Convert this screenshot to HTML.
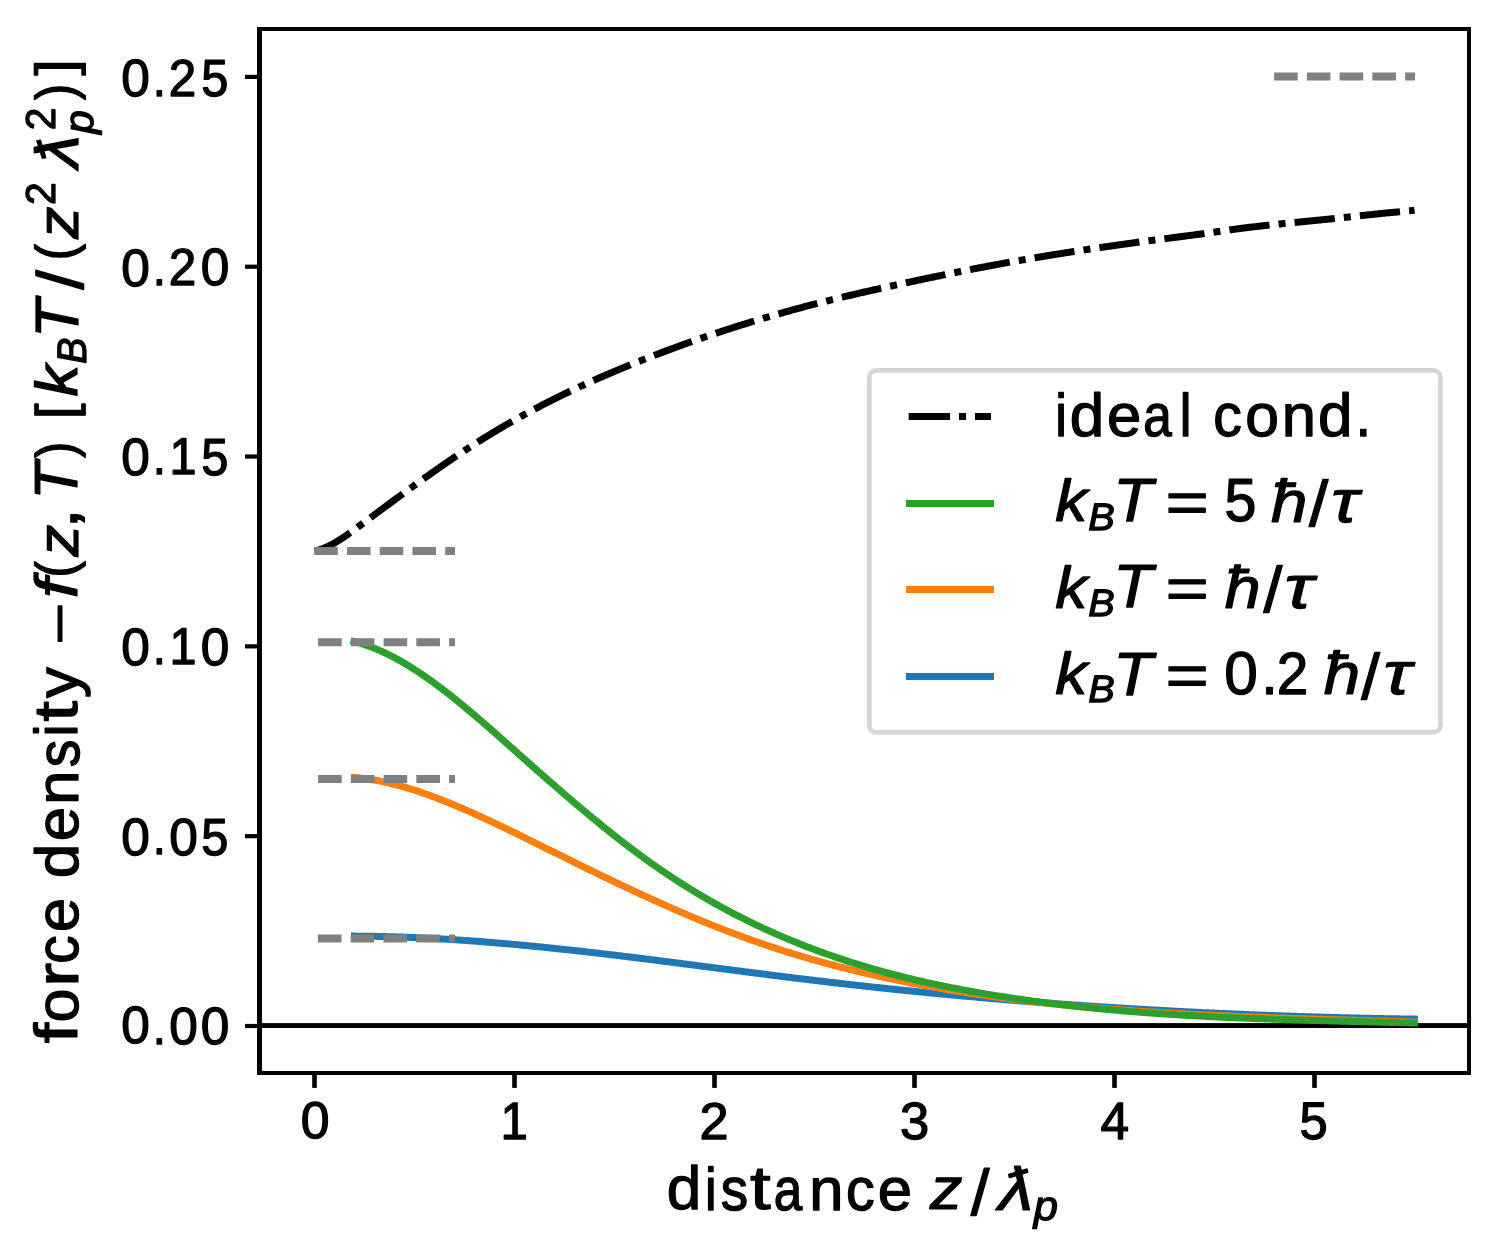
<!DOCTYPE html>
<html><head><meta charset="utf-8"><title>force density vs distance</title>
<style>html,body{margin:0;padding:0;background:#fff;}svg{display:block;}</style></head>
<body><svg width="1495" height="1244" viewBox="0 0 1495 1244">
<rect width="1495" height="1244" fill="#fff"/>
<rect x="259.5" y="1023.1" width="1210" height="4.9" fill="#000"/>
<path d="M314.50,551.00 L315.50,550.78 L316.50,550.54 L317.50,550.28 L318.50,550.00 L319.50,549.70 L320.50,549.37 L321.50,549.03 L322.50,548.66 L323.50,548.28 L324.50,547.88 L325.50,547.46 L326.50,547.02 L327.50,546.56 L328.50,546.09 L329.50,545.60 L330.50,545.09 L331.50,544.57 L332.50,544.04 L333.50,543.49 L334.50,542.93 L335.50,542.35 L336.50,541.76 L337.50,541.16 L338.50,540.55 L339.50,539.92 L340.50,539.29 L341.50,538.64 L342.50,537.99 L343.50,537.32 L344.50,536.65 L345.50,535.97 L346.50,535.28 L347.50,534.59 L348.50,533.88 L349.50,533.18 L350.50,532.46 L351.50,531.74 L352.50,531.02 L353.50,530.29 L354.50,529.56 L355.50,528.82 L356.50,528.08 L357.50,527.35 L358.50,526.60 L359.50,525.86 L360.50,525.12 L361.50,524.37 L362.50,523.63 L363.50,522.89 L364.50,522.14 L365.50,521.40 L366.50,520.66 L367.50,519.91 L368.50,519.17 L369.50,518.43 L370.50,517.68 L371.50,516.94 L372.50,516.20 L373.50,515.45 L374.50,514.71 L375.50,513.97 L376.50,513.23 L377.50,512.48 L378.50,511.74 L379.50,511.00 L380.50,510.26 L381.50,509.52 L382.50,508.78 L383.50,508.03 L384.50,507.29 L385.50,506.55 L386.50,505.81 L387.50,505.07 L388.50,504.33 L389.50,503.60 L390.50,502.86 L391.50,502.12 L392.50,501.38 L393.50,500.65 L394.50,499.91 L395.50,499.17 L396.50,498.44 L397.50,497.70 L398.50,496.97 L399.50,496.23 L400.50,495.50 L401.50,494.77 L402.50,494.04 L403.50,493.30 L404.50,492.57 L405.50,491.84 L406.50,491.11 L407.50,490.39 L408.50,489.66 L409.50,488.93 L410.50,488.20 L411.50,487.48 L412.50,486.75 L413.50,486.03 L414.50,485.31 L415.50,484.59 L416.50,483.86 L417.50,483.14 L418.50,482.42 L419.50,481.71 L420.50,480.99 L421.50,480.27 L422.50,479.56 L423.50,478.84 L424.50,478.13 L425.50,477.41 L426.50,476.70 L427.50,475.99 L428.50,475.28 L429.50,474.57 L430.50,473.87 L431.50,473.16 L432.50,472.46 L433.50,471.75 L434.50,471.05 L435.50,470.35 L436.50,469.65 L437.50,468.95 L438.50,468.25 L439.50,467.56 L440.50,466.86 L441.50,466.17 L442.50,465.47 L443.50,464.78 L444.50,464.09 L445.50,463.41 L446.50,462.72 L447.50,462.03 L448.50,461.35 L449.50,460.67 L450.50,459.99 L451.50,459.31 L452.50,458.63 L453.50,457.95 L454.50,457.28 L455.50,456.60 L456.50,455.93 L457.50,455.26 L458.50,454.59 L459.50,453.93 L460.50,453.26 L461.50,452.60 L462.50,451.94 L463.50,451.28 L464.50,450.62 L465.50,449.96 L466.50,449.31 L467.50,448.65 L468.50,448.00 L469.50,447.35 L470.50,446.70 L471.50,446.06 L472.50,445.41 L473.50,444.77 L474.50,444.13 L475.50,443.49 L476.50,442.86 L477.50,442.22 L478.50,441.59 L479.50,440.96 L480.50,440.33 L481.50,439.70 L482.50,439.08 L483.50,438.46 L484.50,437.84 L485.50,437.22 L486.50,436.60 L487.50,435.99 L488.50,435.37 L489.50,434.76 L490.50,434.15 L491.50,433.55 L492.50,432.94 L493.50,432.34 L494.50,431.74 L495.50,431.14 L496.50,430.54 L497.50,429.94 L498.50,429.35 L499.50,428.76 L500.50,428.17 L501.50,427.58 L502.50,426.99 L503.50,426.41 L504.50,425.82 L505.50,425.24 L506.50,424.66 L507.50,424.08 L508.50,423.51 L509.50,422.93 L510.50,422.36 L511.50,421.79 L512.50,421.22 L513.50,420.66 L514.50,420.09 L515.50,419.53 L516.50,418.97 L517.50,418.41 L518.50,417.85 L519.50,417.29 L520.50,416.74 L521.50,416.18 L522.50,415.63 L523.50,415.08 L524.50,414.53 L525.50,413.99 L526.50,413.44 L527.50,412.90 L528.50,412.36 L529.50,411.82 L530.50,411.28 L531.50,410.75 L532.50,410.21 L533.50,409.68 L534.50,409.15 L535.50,408.62 L536.50,408.09 L537.50,407.56 L538.50,407.04 L539.50,406.52 L540.50,405.99 L541.50,405.47 L542.50,404.96 L543.50,404.44 L544.50,403.92 L545.50,403.41 L546.50,402.90 L547.50,402.39 L548.50,401.88 L549.50,401.37 L550.50,400.86 L551.50,400.36 L552.50,399.86 L553.50,399.36 L554.50,398.86 L555.50,398.36 L556.50,397.86 L557.50,397.36 L558.50,396.87 L559.50,396.38 L560.50,395.89 L561.50,395.40 L562.50,394.91 L563.50,394.42 L564.50,393.94 L565.50,393.45 L566.50,392.97 L567.50,392.49 L568.50,392.01 L569.50,391.53 L570.50,391.06 L571.50,390.58 L572.50,390.11 L573.50,389.64 L574.50,389.17 L575.50,388.70 L576.50,388.23 L577.50,387.76 L578.50,387.30 L579.50,386.83 L580.50,386.37 L581.50,385.91 L582.50,385.45 L583.50,384.99 L584.50,384.53 L585.50,384.07 L586.50,383.62 L587.50,383.17 L588.50,382.71 L589.50,382.26 L590.50,381.81 L591.50,381.36 L592.50,380.92 L593.50,380.47 L594.50,380.03 L595.50,379.58 L596.50,379.14 L597.50,378.70 L598.50,378.26 L599.50,377.82 L600.50,377.38 L601.50,376.95 L602.50,376.51 L603.50,376.08 L604.50,375.65 L605.50,375.21 L606.50,374.78 L607.50,374.35 L608.50,373.93 L609.50,373.50 L610.50,373.07 L611.50,372.65 L612.50,372.22 L613.50,371.80 L614.50,371.38 L615.50,370.96 L616.50,370.54 L617.50,370.12 L618.50,369.70 L619.50,369.29 L620.50,368.87 L621.50,368.46 L622.50,368.04 L623.50,367.63 L624.50,367.22 L625.50,366.81 L626.50,366.40 L627.50,365.99 L628.50,365.59 L629.50,365.18 L630.50,364.77 L631.50,364.37 L632.50,363.97 L633.50,363.56 L634.50,363.16 L635.50,362.76 L636.50,362.36 L637.50,361.96 L638.50,361.56 L639.50,361.17 L640.50,360.77 L641.50,360.37 L642.50,359.98 L643.50,359.59 L644.50,359.19 L645.50,358.80 L646.50,358.41 L647.50,358.02 L648.50,357.63 L649.50,357.24 L650.50,356.85 L651.50,356.46 L652.50,356.08 L653.50,355.69 L654.50,355.31 L655.50,354.92 L656.50,354.54 L657.50,354.16 L658.50,353.78 L659.50,353.40 L660.50,353.02 L661.50,352.64 L662.50,352.26 L663.50,351.88 L664.50,351.51 L665.50,351.13 L666.50,350.76 L667.50,350.38 L668.50,350.01 L669.50,349.64 L670.50,349.27 L671.50,348.90 L672.50,348.53 L673.50,348.16 L674.50,347.79 L675.50,347.42 L676.50,347.06 L677.50,346.69 L678.50,346.33 L679.50,345.96 L680.50,345.60 L681.50,345.24 L682.50,344.88 L683.50,344.52 L684.50,344.16 L685.50,343.80 L686.50,343.44 L687.50,343.08 L688.50,342.72 L689.50,342.37 L690.50,342.01 L691.50,341.66 L692.50,341.31 L693.50,340.95 L694.50,340.60 L695.50,340.25 L696.50,339.90 L697.50,339.55 L698.50,339.20 L699.50,338.86 L700.50,338.51 L701.50,338.16 L702.50,337.82 L703.50,337.47 L704.50,337.13 L705.50,336.79 L706.50,336.44 L707.50,336.10 L708.50,335.76 L709.50,335.42 L710.50,335.08 L711.50,334.75 L712.50,334.41 L713.50,334.07 L714.50,333.74 L715.50,333.40 L716.50,333.07 L717.50,332.74 L718.50,332.40 L719.50,332.07 L720.50,331.74 L721.50,331.41 L722.50,331.08 L723.50,330.75 L724.50,330.43 L725.50,330.10 L726.50,329.77 L727.50,329.45 L728.50,329.12 L729.50,328.80 L730.50,328.48 L731.50,328.15 L732.50,327.83 L733.50,327.51 L734.50,327.19 L735.50,326.87 L736.50,326.56 L737.50,326.24 L738.50,325.92 L739.50,325.61 L740.50,325.29 L741.50,324.98 L742.50,324.66 L743.50,324.35 L744.50,324.04 L745.50,323.73 L746.50,323.42 L747.50,323.11 L748.50,322.80 L749.50,322.49 L750.50,322.18 L751.50,321.88 L752.50,321.57 L753.50,321.27 L754.50,320.96 L755.50,320.66 L756.50,320.36 L757.50,320.06 L758.50,319.76 L759.50,319.45 L760.50,319.16 L761.50,318.86 L762.50,318.56 L763.50,318.26 L764.50,317.97 L765.50,317.67 L766.50,317.37 L767.50,317.08 L768.50,316.79 L769.50,316.50 L770.50,316.20 L771.50,315.91 L772.50,315.62 L773.50,315.33 L774.50,315.04 L775.50,314.76 L776.50,314.47 L777.50,314.18 L778.50,313.90 L779.50,313.61 L780.50,313.33 L781.50,313.04 L782.50,312.76 L783.50,312.48 L784.50,312.20 L785.50,311.92 L786.50,311.64 L787.50,311.36 L788.50,311.08 L789.50,310.80 L790.50,310.53 L791.50,310.25 L792.50,309.98 L793.50,309.70 L794.50,309.43 L795.50,309.16 L796.50,308.88 L797.50,308.61 L798.50,308.34 L799.50,308.07 L800.50,307.80 L801.50,307.54 L802.50,307.27 L803.50,307.00 L804.50,306.73 L805.50,306.47 L806.50,306.20 L807.50,305.94 L808.50,305.68 L809.50,305.42 L810.50,305.15 L811.50,304.89 L812.50,304.63 L813.50,304.37 L814.50,304.11 L815.50,303.86 L816.50,303.60 L817.50,303.34 L818.50,303.09 L819.50,302.83 L820.50,302.58 L821.50,302.32 L822.50,302.07 L823.50,301.82 L824.50,301.57 L825.50,301.32 L826.50,301.07 L827.50,300.82 L828.50,300.57 L829.50,300.32 L830.50,300.07 L831.50,299.83 L832.50,299.58 L833.50,299.34 L834.50,299.09 L835.50,298.85 L836.50,298.60 L837.50,298.36 L838.50,298.12 L839.50,297.88 L840.50,297.63 L841.50,297.39 L842.50,297.15 L843.50,296.91 L844.50,296.68 L845.50,296.44 L846.50,296.20 L847.50,295.96 L848.50,295.73 L849.50,295.49 L850.50,295.25 L851.50,295.02 L852.50,294.78 L853.50,294.55 L854.50,294.32 L855.50,294.08 L856.50,293.85 L857.50,293.62 L858.50,293.39 L859.50,293.16 L860.50,292.93 L861.50,292.70 L862.50,292.47 L863.50,292.24 L864.50,292.01 L865.50,291.78 L866.50,291.55 L867.50,291.33 L868.50,291.10 L869.50,290.87 L870.50,290.65 L871.50,290.42 L872.50,290.19 L873.50,289.97 L874.50,289.74 L875.50,289.52 L876.50,289.30 L877.50,289.07 L878.50,288.85 L879.50,288.63 L880.50,288.40 L881.50,288.18 L882.50,287.96 L883.50,287.74 L884.50,287.52 L885.50,287.30 L886.50,287.08 L887.50,286.86 L888.50,286.64 L889.50,286.42 L890.50,286.20 L891.50,285.98 L892.50,285.76 L893.50,285.54 L894.50,285.32 L895.50,285.10 L896.50,284.88 L897.50,284.67 L898.50,284.45 L899.50,284.23 L900.50,284.02 L901.50,283.80 L902.50,283.58 L903.50,283.37 L904.50,283.15 L905.50,282.94 L906.50,282.72 L907.50,282.51 L908.50,282.29 L909.50,282.08 L910.50,281.86 L911.50,281.65 L912.50,281.43 L913.50,281.22 L914.50,281.01 L915.50,280.79 L916.50,280.58 L917.50,280.37 L918.50,280.16 L919.50,279.95 L920.50,279.73 L921.50,279.52 L922.50,279.31 L923.50,279.10 L924.50,278.89 L925.50,278.68 L926.50,278.47 L927.50,278.26 L928.50,278.05 L929.50,277.84 L930.50,277.63 L931.50,277.42 L932.50,277.22 L933.50,277.01 L934.50,276.80 L935.50,276.59 L936.50,276.39 L937.50,276.18 L938.50,275.97 L939.50,275.77 L940.50,275.56 L941.50,275.35 L942.50,275.15 L943.50,274.94 L944.50,274.74 L945.50,274.53 L946.50,274.33 L947.50,274.13 L948.50,273.92 L949.50,273.72 L950.50,273.52 L951.50,273.31 L952.50,273.11 L953.50,272.91 L954.50,272.71 L955.50,272.50 L956.50,272.30 L957.50,272.10 L958.50,271.90 L959.50,271.70 L960.50,271.50 L961.50,271.30 L962.50,271.10 L963.50,270.90 L964.50,270.70 L965.50,270.50 L966.50,270.31 L967.50,270.11 L968.50,269.91 L969.50,269.71 L970.50,269.52 L971.50,269.32 L972.50,269.13 L973.50,268.93 L974.50,268.74 L975.50,268.54 L976.50,268.35 L977.50,268.16 L978.50,267.96 L979.50,267.77 L980.50,267.58 L981.50,267.39 L982.50,267.20 L983.50,267.01 L984.50,266.82 L985.50,266.63 L986.50,266.44 L987.50,266.25 L988.50,266.06 L989.50,265.88 L990.50,265.69 L991.50,265.50 L992.50,265.32 L993.50,265.13 L994.50,264.94 L995.50,264.76 L996.50,264.57 L997.50,264.39 L998.50,264.21 L999.50,264.02 L1000.50,263.84 L1001.50,263.66 L1002.50,263.48 L1003.50,263.29 L1004.50,263.11 L1005.50,262.93 L1006.50,262.75 L1007.50,262.57 L1008.50,262.39 L1009.50,262.21 L1010.50,262.04 L1011.50,261.86 L1012.50,261.68 L1013.50,261.50 L1014.50,261.32 L1015.50,261.15 L1016.50,260.97 L1017.50,260.80 L1018.50,260.62 L1019.50,260.45 L1020.50,260.27 L1021.50,260.10 L1022.50,259.92 L1023.50,259.75 L1024.50,259.58 L1025.50,259.40 L1026.50,259.23 L1027.50,259.06 L1028.50,258.89 L1029.50,258.72 L1030.50,258.55 L1031.50,258.38 L1032.50,258.21 L1033.50,258.04 L1034.50,257.87 L1035.50,257.70 L1036.50,257.53 L1037.50,257.37 L1038.50,257.20 L1039.50,257.03 L1040.50,256.86 L1041.50,256.70 L1042.50,256.53 L1043.50,256.37 L1044.50,256.20 L1045.50,256.04 L1046.50,255.87 L1047.50,255.71 L1048.50,255.54 L1049.50,255.38 L1050.50,255.22 L1051.50,255.06 L1052.50,254.89 L1053.50,254.73 L1054.50,254.57 L1055.50,254.41 L1056.50,254.25 L1057.50,254.09 L1058.50,253.93 L1059.50,253.77 L1060.50,253.61 L1061.50,253.45 L1062.50,253.29 L1063.50,253.13 L1064.50,252.97 L1065.50,252.82 L1066.50,252.66 L1067.50,252.50 L1068.50,252.35 L1069.50,252.19 L1070.50,252.03 L1071.50,251.88 L1072.50,251.72 L1073.50,251.57 L1074.50,251.41 L1075.50,251.26 L1076.50,251.11 L1077.50,250.95 L1078.50,250.80 L1079.50,250.65 L1080.50,250.50 L1081.50,250.34 L1082.50,250.19 L1083.50,250.04 L1084.50,249.89 L1085.50,249.74 L1086.50,249.59 L1087.50,249.44 L1088.50,249.29 L1089.50,249.14 L1090.50,248.99 L1091.50,248.84 L1092.50,248.69 L1093.50,248.54 L1094.50,248.40 L1095.50,248.25 L1096.50,248.10 L1097.50,247.95 L1098.50,247.81 L1099.50,247.66 L1100.50,247.52 L1101.50,247.37 L1102.50,247.22 L1103.50,247.08 L1104.50,246.93 L1105.50,246.79 L1106.50,246.65 L1107.50,246.50 L1108.50,246.36 L1109.50,246.21 L1110.50,246.07 L1111.50,245.93 L1112.50,245.79 L1113.50,245.64 L1114.50,245.50 L1115.50,245.36 L1116.50,245.22 L1117.50,245.08 L1118.50,244.94 L1119.50,244.80 L1120.50,244.66 L1121.50,244.52 L1122.50,244.38 L1123.50,244.24 L1124.50,244.10 L1125.50,243.96 L1126.50,243.82 L1127.50,243.69 L1128.50,243.55 L1129.50,243.41 L1130.50,243.27 L1131.50,243.14 L1132.50,243.00 L1133.50,242.86 L1134.50,242.73 L1135.50,242.59 L1136.50,242.46 L1137.50,242.32 L1138.50,242.19 L1139.50,242.05 L1140.50,241.92 L1141.50,241.78 L1142.50,241.65 L1143.50,241.51 L1144.50,241.38 L1145.50,241.25 L1146.50,241.11 L1147.50,240.98 L1148.50,240.85 L1149.50,240.72 L1150.50,240.58 L1151.50,240.45 L1152.50,240.32 L1153.50,240.19 L1154.50,240.06 L1155.50,239.93 L1156.50,239.80 L1157.50,239.67 L1158.50,239.54 L1159.50,239.41 L1160.50,239.28 L1161.50,239.15 L1162.50,239.02 L1163.50,238.89 L1164.50,238.76 L1165.50,238.63 L1166.50,238.50 L1167.50,238.37 L1168.50,238.24 L1169.50,238.11 L1170.50,237.98 L1171.50,237.85 L1172.50,237.72 L1173.50,237.59 L1174.50,237.47 L1175.50,237.34 L1176.50,237.21 L1177.50,237.08 L1178.50,236.95 L1179.50,236.82 L1180.50,236.69 L1181.50,236.56 L1182.50,236.43 L1183.50,236.30 L1184.50,236.17 L1185.50,236.04 L1186.50,235.90 L1187.50,235.77 L1188.50,235.64 L1189.50,235.51 L1190.50,235.38 L1191.50,235.25 L1192.50,235.11 L1193.50,234.98 L1194.50,234.85 L1195.50,234.72 L1196.50,234.58 L1197.50,234.45 L1198.50,234.31 L1199.50,234.18 L1200.50,234.04 L1201.50,233.91 L1202.50,233.77 L1203.50,233.64 L1204.50,233.50 L1205.50,233.36 L1206.50,233.22 L1207.50,233.09 L1208.50,232.95 L1209.50,232.81 L1210.50,232.67 L1211.50,232.53 L1212.50,232.39 L1213.50,232.25 L1214.50,232.10 L1215.50,231.96 L1216.50,231.82 L1217.50,231.67 L1218.50,231.53 L1219.50,231.38 L1220.50,231.24 L1221.50,231.09 L1222.50,230.95 L1223.50,230.80 L1224.50,230.66 L1225.50,230.51 L1226.50,230.37 L1227.50,230.23 L1228.50,230.09 L1229.50,229.94 L1230.50,229.80 L1231.50,229.67 L1232.50,229.53 L1233.50,229.39 L1234.50,229.26 L1235.50,229.12 L1236.50,228.99 L1237.50,228.85 L1238.50,228.72 L1239.50,228.59 L1240.50,228.46 L1241.50,228.33 L1242.50,228.21 L1243.50,228.08 L1244.50,227.95 L1245.50,227.83 L1246.50,227.70 L1247.50,227.58 L1248.50,227.46 L1249.50,227.34 L1250.50,227.22 L1251.50,227.10 L1252.50,226.98 L1253.50,226.86 L1254.50,226.74 L1255.50,226.62 L1256.50,226.51 L1257.50,226.39 L1258.50,226.28 L1259.50,226.16 L1260.50,226.05 L1261.50,225.94 L1262.50,225.82 L1263.50,225.71 L1264.50,225.60 L1265.50,225.49 L1266.50,225.38 L1267.50,225.27 L1268.50,225.16 L1269.50,225.06 L1270.50,224.95 L1271.50,224.84 L1272.50,224.74 L1273.50,224.63 L1274.50,224.52 L1275.50,224.42 L1276.50,224.32 L1277.50,224.21 L1278.50,224.11 L1279.50,224.00 L1280.50,223.90 L1281.50,223.80 L1282.50,223.70 L1283.50,223.59 L1284.50,223.49 L1285.50,223.39 L1286.50,223.29 L1287.50,223.19 L1288.50,223.09 L1289.50,222.99 L1290.50,222.89 L1291.50,222.79 L1292.50,222.69 L1293.50,222.59 L1294.50,222.49 L1295.50,222.39 L1296.50,222.29 L1297.50,222.19 L1298.50,222.10 L1299.50,222.00 L1300.50,221.90 L1301.50,221.80 L1302.50,221.70 L1303.50,221.60 L1304.50,221.51 L1305.50,221.41 L1306.50,221.31 L1307.50,221.21 L1308.50,221.11 L1309.50,221.02 L1310.50,220.92 L1311.50,220.82 L1312.50,220.72 L1313.50,220.62 L1314.50,220.52 L1315.50,220.42 L1316.50,220.33 L1317.50,220.23 L1318.50,220.13 L1319.50,220.03 L1320.50,219.93 L1321.50,219.83 L1322.50,219.73 L1323.50,219.63 L1324.50,219.53 L1325.50,219.43 L1326.50,219.32 L1327.50,219.22 L1328.50,219.12 L1329.50,219.02 L1330.50,218.92 L1331.50,218.81 L1332.50,218.71 L1333.50,218.61 L1334.50,218.50 L1335.50,218.40 L1336.50,218.29 L1337.50,218.19 L1338.50,218.08 L1339.50,217.97 L1340.50,217.87 L1341.50,217.76 L1342.50,217.65 L1343.50,217.55 L1344.50,217.44 L1345.50,217.33 L1346.50,217.22 L1347.50,217.12 L1348.50,217.01 L1349.50,216.90 L1350.50,216.79 L1351.50,216.68 L1352.50,216.57 L1353.50,216.46 L1354.50,216.36 L1355.50,216.25 L1356.50,216.14 L1357.50,216.03 L1358.50,215.92 L1359.50,215.81 L1360.50,215.70 L1361.50,215.60 L1362.50,215.49 L1363.50,215.38 L1364.50,215.27 L1365.50,215.16 L1366.50,215.06 L1367.50,214.95 L1368.50,214.84 L1369.50,214.74 L1370.50,214.63 L1371.50,214.52 L1372.50,214.42 L1373.50,214.31 L1374.50,214.21 L1375.50,214.10 L1376.50,214.00 L1377.50,213.90 L1378.50,213.79 L1379.50,213.69 L1380.50,213.59 L1381.50,213.49 L1382.50,213.39 L1383.50,213.29 L1384.50,213.19 L1385.50,213.09 L1386.50,212.99 L1387.50,212.89 L1388.50,212.79 L1389.50,212.70 L1390.50,212.60 L1391.50,212.51 L1392.50,212.41 L1393.50,212.32 L1394.50,212.23 L1395.50,212.14 L1396.50,212.05 L1397.50,211.96 L1398.50,211.87 L1399.50,211.78 L1400.50,211.69 L1401.50,211.61 L1402.50,211.52 L1403.50,211.43 L1404.50,211.34 L1405.50,211.25 L1406.50,211.16 L1407.50,211.06 L1408.50,210.95 L1409.50,210.85 L1410.50,210.73 L1411.50,210.61 L1412.50,210.49 L1413.50,210.35 L1414.50,210.21" fill="none" stroke="#000" stroke-width="7.0" stroke-dasharray="40.4 9.1 7.0 9.1" stroke-dashoffset="0" stroke-linecap="butt" stroke-linejoin="round"/>
<path d="M354.50,936.12 L356.00,936.12 L357.50,936.13 L359.00,936.15 L360.50,936.16 L362.00,936.17 L363.50,936.19 L365.00,936.20 L366.50,936.22 L368.00,936.24 L369.50,936.27 L371.00,936.29 L372.50,936.31 L374.00,936.34 L375.50,936.37 L377.00,936.40 L378.50,936.43 L380.00,936.46 L381.50,936.49 L383.00,936.53 L384.50,936.56 L386.00,936.60 L387.50,936.64 L389.00,936.68 L390.50,936.72 L392.00,936.77 L393.50,936.81 L395.00,936.86 L396.50,936.91 L398.00,936.96 L399.50,937.01 L401.00,937.06 L402.50,937.11 L404.00,937.17 L405.50,937.22 L407.00,937.28 L408.50,937.34 L410.00,937.40 L411.50,937.46 L413.00,937.52 L414.50,937.59 L416.00,937.65 L417.50,937.72 L419.00,937.78 L420.50,937.85 L422.00,937.92 L423.50,938.00 L425.00,938.07 L426.50,938.14 L428.00,938.22 L429.50,938.29 L431.00,938.37 L432.50,938.45 L434.00,938.53 L435.50,938.61 L437.00,938.70 L438.50,938.78 L440.00,938.86 L441.50,938.95 L443.00,939.04 L444.50,939.13 L446.00,939.22 L447.50,939.31 L449.00,939.40 L450.50,939.49 L452.00,939.59 L453.50,939.68 L455.00,939.78 L456.50,939.88 L458.00,939.98 L459.50,940.08 L461.00,940.18 L462.50,940.28 L464.00,940.38 L465.50,940.49 L467.00,940.59 L468.50,940.70 L470.00,940.81 L471.50,940.91 L473.00,941.02 L474.50,941.13 L476.00,941.25 L477.50,941.36 L479.00,941.47 L480.50,941.59 L482.00,941.70 L483.50,941.82 L485.00,941.94 L486.50,942.06 L488.00,942.18 L489.50,942.30 L491.00,942.42 L492.50,942.54 L494.00,942.67 L495.50,942.79 L497.00,942.92 L498.50,943.04 L500.00,943.17 L501.50,943.30 L503.00,943.43 L504.50,943.56 L506.00,943.69 L507.50,943.82 L509.00,943.96 L510.50,944.09 L512.00,944.22 L513.50,944.36 L515.00,944.50 L516.50,944.63 L518.00,944.77 L519.50,944.91 L521.00,945.05 L522.50,945.19 L524.00,945.33 L525.50,945.48 L527.00,945.62 L528.50,945.76 L530.00,945.91 L531.50,946.05 L533.00,946.20 L534.50,946.35 L536.00,946.50 L537.50,946.64 L539.00,946.79 L540.50,946.94 L542.00,947.10 L543.50,947.25 L545.00,947.40 L546.50,947.55 L548.00,947.71 L549.50,947.86 L551.00,948.02 L552.50,948.17 L554.00,948.33 L555.50,948.49 L557.00,948.65 L558.50,948.80 L560.00,948.96 L561.50,949.12 L563.00,949.29 L564.50,949.45 L566.00,949.61 L567.50,949.77 L569.00,949.94 L570.50,950.10 L572.00,950.26 L573.50,950.43 L575.00,950.60 L576.50,950.76 L578.00,950.93 L579.50,951.10 L581.00,951.27 L582.50,951.43 L584.00,951.60 L585.50,951.77 L587.00,951.94 L588.50,952.12 L590.00,952.29 L591.50,952.46 L593.00,952.63 L594.50,952.81 L596.00,952.98 L597.50,953.15 L599.00,953.33 L600.50,953.50 L602.00,953.68 L603.50,953.86 L605.00,954.03 L606.50,954.21 L608.00,954.39 L609.50,954.57 L611.00,954.74 L612.50,954.92 L614.00,955.10 L615.50,955.28 L617.00,955.46 L618.50,955.64 L620.00,955.83 L621.50,956.01 L623.00,956.19 L624.50,956.37 L626.00,956.55 L627.50,956.74 L629.00,956.92 L630.50,957.10 L632.00,957.29 L633.50,957.47 L635.00,957.66 L636.50,957.84 L638.00,958.03 L639.50,958.22 L641.00,958.40 L642.50,958.59 L644.00,958.78 L645.50,958.96 L647.00,959.15 L648.50,959.34 L650.00,959.53 L651.50,959.71 L653.00,959.90 L654.50,960.09 L656.00,960.28 L657.50,960.47 L659.00,960.66 L660.50,960.85 L662.00,961.04 L663.50,961.23 L665.00,961.42 L666.50,961.61 L668.00,961.80 L669.50,961.99 L671.00,962.19 L672.50,962.38 L674.00,962.57 L675.50,962.76 L677.00,962.95 L678.50,963.15 L680.00,963.34 L681.50,963.53 L683.00,963.72 L684.50,963.92 L686.00,964.11 L687.50,964.30 L689.00,964.50 L690.50,964.69 L692.00,964.88 L693.50,965.08 L695.00,965.27 L696.50,965.46 L698.00,965.66 L699.50,965.85 L701.00,966.04 L702.50,966.24 L704.00,966.43 L705.50,966.63 L707.00,966.82 L708.50,967.01 L710.00,967.21 L711.50,967.40 L713.00,967.60 L714.50,967.79 L716.00,967.98 L717.50,968.18 L719.00,968.37 L720.50,968.57 L722.00,968.76 L723.50,968.95 L725.00,969.15 L726.50,969.34 L728.00,969.54 L729.50,969.73 L731.00,969.92 L732.50,970.12 L734.00,970.31 L735.50,970.50 L737.00,970.70 L738.50,970.89 L740.00,971.08 L741.50,971.28 L743.00,971.47 L744.50,971.66 L746.00,971.86 L747.50,972.05 L749.00,972.24 L750.50,972.43 L752.00,972.62 L753.50,972.82 L755.00,973.01 L756.50,973.20 L758.00,973.39 L759.50,973.58 L761.00,973.77 L762.50,973.96 L764.00,974.15 L765.50,974.34 L767.00,974.54 L768.50,974.72 L770.00,974.91 L771.50,975.10 L773.00,975.29 L774.50,975.48 L776.00,975.67 L777.50,975.86 L779.00,976.05 L780.50,976.23 L782.00,976.42 L783.50,976.61 L785.00,976.80 L786.50,976.98 L788.00,977.17 L789.50,977.36 L791.00,977.54 L792.50,977.73 L794.00,977.91 L795.50,978.10 L797.00,978.28 L798.50,978.46 L800.00,978.65 L801.50,978.83 L803.00,979.01 L804.50,979.20 L806.00,979.38 L807.50,979.56 L809.00,979.74 L810.50,979.92 L812.00,980.10 L813.50,980.28 L815.00,980.46 L816.50,980.64 L818.00,980.82 L819.50,981.00 L821.00,981.17 L822.50,981.35 L824.00,981.53 L825.50,981.70 L827.00,981.88 L828.50,982.06 L830.00,982.23 L831.50,982.40 L833.00,982.58 L834.50,982.75 L836.00,982.93 L837.50,983.10 L839.00,983.27 L840.50,983.44 L842.00,983.61 L843.50,983.78 L845.00,983.96 L846.50,984.13 L848.00,984.30 L849.50,984.46 L851.00,984.63 L852.50,984.80 L854.00,984.97 L855.50,985.14 L857.00,985.30 L858.50,985.47 L860.00,985.64 L861.50,985.80 L863.00,985.97 L864.50,986.13 L866.00,986.30 L867.50,986.46 L869.00,986.62 L870.50,986.79 L872.00,986.95 L873.50,987.11 L875.00,987.27 L876.50,987.44 L878.00,987.60 L879.50,987.76 L881.00,987.92 L882.50,988.08 L884.00,988.24 L885.50,988.39 L887.00,988.55 L888.50,988.71 L890.00,988.87 L891.50,989.02 L893.00,989.18 L894.50,989.34 L896.00,989.49 L897.50,989.65 L899.00,989.80 L900.50,989.96 L902.00,990.11 L903.50,990.26 L905.00,990.42 L906.50,990.57 L908.00,990.72 L909.50,990.87 L911.00,991.03 L912.50,991.18 L914.00,991.33 L915.50,991.48 L917.00,991.63 L918.50,991.78 L920.00,991.92 L921.50,992.07 L923.00,992.22 L924.50,992.37 L926.00,992.52 L927.50,992.66 L929.00,992.81 L930.50,992.95 L932.00,993.10 L933.50,993.24 L935.00,993.39 L936.50,993.53 L938.00,993.68 L939.50,993.82 L941.00,993.96 L942.50,994.10 L944.00,994.25 L945.50,994.39 L947.00,994.53 L948.50,994.67 L950.00,994.81 L951.50,994.95 L953.00,995.09 L954.50,995.23 L956.00,995.37 L957.50,995.50 L959.00,995.64 L960.50,995.78 L962.00,995.92 L963.50,996.05 L965.00,996.19 L966.50,996.32 L968.00,996.46 L969.50,996.59 L971.00,996.73 L972.50,996.86 L974.00,997.00 L975.50,997.13 L977.00,997.26 L978.50,997.39 L980.00,997.53 L981.50,997.66 L983.00,997.79 L984.50,997.92 L986.00,998.05 L987.50,998.18 L989.00,998.31 L990.50,998.44 L992.00,998.57 L993.50,998.69 L995.00,998.82 L996.50,998.95 L998.00,999.07 L999.50,999.20 L1001.00,999.33 L1002.50,999.45 L1004.00,999.58 L1005.50,999.70 L1007.00,999.83 L1008.50,999.95 L1010.00,1000.07 L1011.50,1000.20 L1013.00,1000.32 L1014.50,1000.44 L1016.00,1000.56 L1017.50,1000.69 L1019.00,1000.81 L1020.50,1000.93 L1022.00,1001.05 L1023.50,1001.17 L1025.00,1001.29 L1026.50,1001.40 L1028.00,1001.52 L1029.50,1001.64 L1031.00,1001.76 L1032.50,1001.88 L1034.00,1001.99 L1035.50,1002.11 L1037.00,1002.23 L1038.50,1002.34 L1040.00,1002.46 L1041.50,1002.57 L1043.00,1002.69 L1044.50,1002.80 L1046.00,1002.91 L1047.50,1003.03 L1049.00,1003.14 L1050.50,1003.25 L1052.00,1003.36 L1053.50,1003.48 L1055.00,1003.59 L1056.50,1003.70 L1058.00,1003.81 L1059.50,1003.92 L1061.00,1004.03 L1062.50,1004.14 L1064.00,1004.25 L1065.50,1004.35 L1067.00,1004.46 L1068.50,1004.57 L1070.00,1004.68 L1071.50,1004.78 L1073.00,1004.89 L1074.50,1005.00 L1076.00,1005.10 L1077.50,1005.21 L1079.00,1005.31 L1080.50,1005.41 L1082.00,1005.52 L1083.50,1005.62 L1085.00,1005.73 L1086.50,1005.83 L1088.00,1005.93 L1089.50,1006.03 L1091.00,1006.13 L1092.50,1006.23 L1094.00,1006.34 L1095.50,1006.44 L1097.00,1006.54 L1098.50,1006.64 L1100.00,1006.73 L1101.50,1006.83 L1103.00,1006.93 L1104.50,1007.03 L1106.00,1007.13 L1107.50,1007.22 L1109.00,1007.32 L1110.50,1007.42 L1112.00,1007.51 L1113.50,1007.61 L1115.00,1007.70 L1116.50,1007.80 L1118.00,1007.89 L1119.50,1007.99 L1121.00,1008.08 L1122.50,1008.17 L1124.00,1008.27 L1125.50,1008.36 L1127.00,1008.45 L1128.50,1008.54 L1130.00,1008.63 L1131.50,1008.72 L1133.00,1008.81 L1134.50,1008.90 L1136.00,1008.99 L1137.50,1009.08 L1139.00,1009.17 L1140.50,1009.26 L1142.00,1009.35 L1143.50,1009.44 L1145.00,1009.52 L1146.50,1009.61 L1148.00,1009.70 L1149.50,1009.78 L1151.00,1009.87 L1152.50,1009.95 L1154.00,1010.04 L1155.50,1010.12 L1157.00,1010.21 L1158.50,1010.29 L1160.00,1010.37 L1161.50,1010.46 L1163.00,1010.54 L1164.50,1010.62 L1166.00,1010.70 L1167.50,1010.79 L1169.00,1010.87 L1170.50,1010.95 L1172.00,1011.03 L1173.50,1011.11 L1175.00,1011.19 L1176.50,1011.27 L1178.00,1011.34 L1179.50,1011.42 L1181.00,1011.50 L1182.50,1011.58 L1184.00,1011.66 L1185.50,1011.73 L1187.00,1011.81 L1188.50,1011.89 L1190.00,1011.96 L1191.50,1012.04 L1193.00,1012.11 L1194.50,1012.19 L1196.00,1012.26 L1197.50,1012.33 L1199.00,1012.41 L1200.50,1012.48 L1202.00,1012.55 L1203.50,1012.63 L1205.00,1012.70 L1206.50,1012.77 L1208.00,1012.84 L1209.50,1012.91 L1211.00,1012.98 L1212.50,1013.05 L1214.00,1013.12 L1215.50,1013.19 L1217.00,1013.26 L1218.50,1013.33 L1220.00,1013.39 L1221.50,1013.46 L1223.00,1013.53 L1224.50,1013.60 L1226.00,1013.66 L1227.50,1013.73 L1229.00,1013.80 L1230.50,1013.86 L1232.00,1013.93 L1233.50,1013.99 L1235.00,1014.05 L1236.50,1014.12 L1238.00,1014.18 L1239.50,1014.25 L1241.00,1014.31 L1242.50,1014.37 L1244.00,1014.43 L1245.50,1014.49 L1247.00,1014.56 L1248.50,1014.62 L1250.00,1014.68 L1251.50,1014.74 L1253.00,1014.80 L1254.50,1014.86 L1256.00,1014.92 L1257.50,1014.97 L1259.00,1015.03 L1260.50,1015.09 L1262.00,1015.15 L1263.50,1015.21 L1265.00,1015.26 L1266.50,1015.32 L1268.00,1015.38 L1269.50,1015.43 L1271.00,1015.49 L1272.50,1015.54 L1274.00,1015.60 L1275.50,1015.65 L1277.00,1015.70 L1278.50,1015.76 L1280.00,1015.81 L1281.50,1015.86 L1283.00,1015.92 L1284.50,1015.97 L1286.00,1016.02 L1287.50,1016.07 L1289.00,1016.12 L1290.50,1016.17 L1292.00,1016.22 L1293.50,1016.27 L1295.00,1016.32 L1296.50,1016.37 L1298.00,1016.42 L1299.50,1016.47 L1301.00,1016.52 L1302.50,1016.56 L1304.00,1016.61 L1305.50,1016.66 L1307.00,1016.71 L1308.50,1016.75 L1310.00,1016.80 L1311.50,1016.84 L1313.00,1016.89 L1314.50,1016.93 L1316.00,1016.98 L1317.50,1017.02 L1319.00,1017.07 L1320.50,1017.11 L1322.00,1017.15 L1323.50,1017.19 L1325.00,1017.24 L1326.50,1017.28 L1328.00,1017.32 L1329.50,1017.36 L1331.00,1017.40 L1332.50,1017.44 L1334.00,1017.48 L1335.50,1017.52 L1337.00,1017.56 L1338.50,1017.60 L1340.00,1017.64 L1341.50,1017.68 L1343.00,1017.72 L1344.50,1017.75 L1346.00,1017.79 L1347.50,1017.83 L1349.00,1017.87 L1350.50,1017.90 L1352.00,1017.94 L1353.50,1017.97 L1355.00,1018.01 L1356.50,1018.04 L1358.00,1018.08 L1359.50,1018.11 L1361.00,1018.14 L1362.50,1018.18 L1364.00,1018.21 L1365.50,1018.24 L1367.00,1018.28 L1368.50,1018.31 L1370.00,1018.34 L1371.50,1018.37 L1373.00,1018.40 L1374.50,1018.43 L1376.00,1018.46 L1377.50,1018.49 L1379.00,1018.52 L1380.50,1018.55 L1382.00,1018.58 L1383.50,1018.61 L1385.00,1018.64 L1386.50,1018.66 L1388.00,1018.69 L1389.50,1018.72 L1391.00,1018.75 L1392.50,1018.77 L1394.00,1018.80 L1395.50,1018.82 L1397.00,1018.85 L1398.50,1018.87 L1400.00,1018.90 L1401.50,1018.92 L1403.00,1018.95 L1404.50,1018.97 L1406.00,1018.99 L1407.50,1019.02 L1409.00,1019.04 L1410.50,1019.06 L1412.00,1019.08 L1413.50,1019.11 L1414.50,1019.12" fill="none" stroke="#1f77b4" stroke-width="7.0" stroke-linecap="square" stroke-linejoin="round"/>
<path d="M354.50,777.47 L356.00,777.60 L357.50,777.74 L359.00,777.89 L360.50,778.06 L362.00,778.23 L363.50,778.41 L365.00,778.61 L366.50,778.81 L368.00,779.03 L369.50,779.25 L371.00,779.49 L372.50,779.73 L374.00,779.99 L375.50,780.25 L377.00,780.53 L378.50,780.81 L380.00,781.10 L381.50,781.41 L383.00,781.72 L384.50,782.04 L386.00,782.37 L387.50,782.71 L389.00,783.05 L390.50,783.41 L392.00,783.78 L393.50,784.15 L395.00,784.53 L396.50,784.92 L398.00,785.32 L399.50,785.72 L401.00,786.14 L402.50,786.56 L404.00,786.99 L405.50,787.42 L407.00,787.87 L408.50,788.32 L410.00,788.78 L411.50,789.24 L413.00,789.71 L414.50,790.19 L416.00,790.68 L417.50,791.17 L419.00,791.67 L420.50,792.18 L422.00,792.69 L423.50,793.21 L425.00,793.73 L426.50,794.27 L428.00,794.80 L429.50,795.34 L431.00,795.89 L432.50,796.45 L434.00,797.00 L435.50,797.57 L437.00,798.14 L438.50,798.71 L440.00,799.29 L441.50,799.88 L443.00,800.47 L444.50,801.06 L446.00,801.66 L447.50,802.27 L449.00,802.87 L450.50,803.49 L452.00,804.10 L453.50,804.72 L455.00,805.35 L456.50,805.98 L458.00,806.61 L459.50,807.25 L461.00,807.89 L462.50,808.53 L464.00,809.18 L465.50,809.83 L467.00,810.48 L468.50,811.14 L470.00,811.81 L471.50,812.47 L473.00,813.14 L474.50,813.81 L476.00,814.49 L477.50,815.16 L479.00,815.85 L480.50,816.53 L482.00,817.22 L483.50,817.91 L485.00,818.60 L486.50,819.29 L488.00,819.99 L489.50,820.69 L491.00,821.40 L492.50,822.10 L494.00,822.81 L495.50,823.52 L497.00,824.23 L498.50,824.94 L500.00,825.66 L501.50,826.38 L503.00,827.10 L504.50,827.82 L506.00,828.55 L507.50,829.27 L509.00,830.00 L510.50,830.73 L512.00,831.46 L513.50,832.19 L515.00,832.92 L516.50,833.66 L518.00,834.39 L519.50,835.13 L521.00,835.87 L522.50,836.61 L524.00,837.35 L525.50,838.09 L527.00,838.83 L528.50,839.57 L530.00,840.32 L531.50,841.06 L533.00,841.80 L534.50,842.55 L536.00,843.29 L537.50,844.04 L539.00,844.79 L540.50,845.53 L542.00,846.28 L543.50,847.03 L545.00,847.77 L546.50,848.52 L548.00,849.27 L549.50,850.01 L551.00,850.76 L552.50,851.50 L554.00,852.25 L555.50,852.99 L557.00,853.74 L558.50,854.48 L560.00,855.23 L561.50,855.97 L563.00,856.71 L564.50,857.46 L566.00,858.20 L567.50,858.94 L569.00,859.68 L570.50,860.42 L572.00,861.16 L573.50,861.90 L575.00,862.64 L576.50,863.38 L578.00,864.12 L579.50,864.86 L581.00,865.59 L582.50,866.33 L584.00,867.06 L585.50,867.80 L587.00,868.53 L588.50,869.26 L590.00,870.00 L591.50,870.73 L593.00,871.46 L594.50,872.19 L596.00,872.91 L597.50,873.64 L599.00,874.37 L600.50,875.10 L602.00,875.82 L603.50,876.54 L605.00,877.27 L606.50,877.99 L608.00,878.71 L609.50,879.43 L611.00,880.15 L612.50,880.87 L614.00,881.58 L615.50,882.30 L617.00,883.01 L618.50,883.73 L620.00,884.44 L621.50,885.15 L623.00,885.86 L624.50,886.57 L626.00,887.28 L627.50,887.98 L629.00,888.69 L630.50,889.39 L632.00,890.09 L633.50,890.79 L635.00,891.49 L636.50,892.19 L638.00,892.89 L639.50,893.58 L641.00,894.28 L642.50,894.97 L644.00,895.66 L645.50,896.35 L647.00,897.04 L648.50,897.72 L650.00,898.41 L651.50,899.09 L653.00,899.77 L654.50,900.45 L656.00,901.13 L657.50,901.81 L659.00,902.48 L660.50,903.15 L662.00,903.82 L663.50,904.49 L665.00,905.16 L666.50,905.83 L668.00,906.49 L669.50,907.15 L671.00,907.81 L672.50,908.47 L674.00,909.13 L675.50,909.79 L677.00,910.44 L678.50,911.09 L680.00,911.74 L681.50,912.39 L683.00,913.03 L684.50,913.67 L686.00,914.31 L687.50,914.95 L689.00,915.59 L690.50,916.23 L692.00,916.86 L693.50,917.49 L695.00,918.12 L696.50,918.74 L698.00,919.37 L699.50,919.99 L701.00,920.61 L702.50,921.23 L704.00,921.84 L705.50,922.45 L707.00,923.07 L708.50,923.67 L710.00,924.28 L711.50,924.88 L713.00,925.48 L714.50,926.08 L716.00,926.68 L717.50,927.27 L719.00,927.86 L720.50,928.45 L722.00,929.04 L723.50,929.62 L725.00,930.20 L726.50,930.78 L728.00,931.36 L729.50,931.93 L731.00,932.50 L732.50,933.07 L734.00,933.64 L735.50,934.20 L737.00,934.76 L738.50,935.32 L740.00,935.87 L741.50,936.43 L743.00,936.97 L744.50,937.52 L746.00,938.06 L747.50,938.61 L749.00,939.14 L750.50,939.68 L752.00,940.21 L753.50,940.74 L755.00,941.27 L756.50,941.79 L758.00,942.31 L759.50,942.83 L761.00,943.35 L762.50,943.86 L764.00,944.37 L765.50,944.88 L767.00,945.39 L768.50,945.89 L770.00,946.39 L771.50,946.89 L773.00,947.38 L774.50,947.87 L776.00,948.36 L777.50,948.85 L779.00,949.33 L780.50,949.81 L782.00,950.29 L783.50,950.77 L785.00,951.24 L786.50,951.72 L788.00,952.18 L789.50,952.65 L791.00,953.11 L792.50,953.58 L794.00,954.04 L795.50,954.49 L797.00,954.95 L798.50,955.40 L800.00,955.85 L801.50,956.29 L803.00,956.74 L804.50,957.18 L806.00,957.62 L807.50,958.05 L809.00,958.49 L810.50,958.92 L812.00,959.35 L813.50,959.78 L815.00,960.20 L816.50,960.62 L818.00,961.04 L819.50,961.46 L821.00,961.88 L822.50,962.29 L824.00,962.70 L825.50,963.11 L827.00,963.52 L828.50,963.92 L830.00,964.32 L831.50,964.72 L833.00,965.12 L834.50,965.51 L836.00,965.91 L837.50,966.30 L839.00,966.68 L840.50,967.07 L842.00,967.45 L843.50,967.84 L845.00,968.21 L846.50,968.59 L848.00,968.97 L849.50,969.34 L851.00,969.71 L852.50,970.08 L854.00,970.45 L855.50,970.81 L857.00,971.17 L858.50,971.53 L860.00,971.89 L861.50,972.25 L863.00,972.60 L864.50,972.95 L866.00,973.30 L867.50,973.65 L869.00,974.00 L870.50,974.34 L872.00,974.68 L873.50,975.02 L875.00,975.36 L876.50,975.70 L878.00,976.03 L879.50,976.36 L881.00,976.69 L882.50,977.02 L884.00,977.35 L885.50,977.67 L887.00,978.00 L888.50,978.32 L890.00,978.63 L891.50,978.95 L893.00,979.27 L894.50,979.58 L896.00,979.89 L897.50,980.20 L899.00,980.51 L900.50,980.81 L902.00,981.12 L903.50,981.42 L905.00,981.72 L906.50,982.02 L908.00,982.32 L909.50,982.61 L911.00,982.90 L912.50,983.20 L914.00,983.49 L915.50,983.77 L917.00,984.06 L918.50,984.34 L920.00,984.63 L921.50,984.91 L923.00,985.19 L924.50,985.47 L926.00,985.74 L927.50,986.02 L929.00,986.29 L930.50,986.56 L932.00,986.83 L933.50,987.10 L935.00,987.37 L936.50,987.63 L938.00,987.89 L939.50,988.16 L941.00,988.42 L942.50,988.67 L944.00,988.93 L945.50,989.19 L947.00,989.44 L948.50,989.69 L950.00,989.94 L951.50,990.19 L953.00,990.44 L954.50,990.69 L956.00,990.93 L957.50,991.18 L959.00,991.42 L960.50,991.66 L962.00,991.90 L963.50,992.13 L965.00,992.37 L966.50,992.60 L968.00,992.84 L969.50,993.07 L971.00,993.30 L972.50,993.53 L974.00,993.75 L975.50,993.98 L977.00,994.20 L978.50,994.43 L980.00,994.65 L981.50,994.87 L983.00,995.08 L984.50,995.30 L986.00,995.52 L987.50,995.73 L989.00,995.94 L990.50,996.16 L992.00,996.37 L993.50,996.57 L995.00,996.78 L996.50,996.99 L998.00,997.19 L999.50,997.40 L1001.00,997.60 L1002.50,997.80 L1004.00,998.00 L1005.50,998.19 L1007.00,998.39 L1008.50,998.59 L1010.00,998.78 L1011.50,998.97 L1013.00,999.16 L1014.50,999.35 L1016.00,999.54 L1017.50,999.73 L1019.00,999.92 L1020.50,1000.10 L1022.00,1000.29 L1023.50,1000.47 L1025.00,1000.65 L1026.50,1000.83 L1028.00,1001.01 L1029.50,1001.18 L1031.00,1001.36 L1032.50,1001.54 L1034.00,1001.71 L1035.50,1001.88 L1037.00,1002.05 L1038.50,1002.22 L1040.00,1002.39 L1041.50,1002.56 L1043.00,1002.73 L1044.50,1002.89 L1046.00,1003.06 L1047.50,1003.22 L1049.00,1003.38 L1050.50,1003.54 L1052.00,1003.70 L1053.50,1003.86 L1055.00,1004.02 L1056.50,1004.17 L1058.00,1004.33 L1059.50,1004.48 L1061.00,1004.63 L1062.50,1004.79 L1064.00,1004.94 L1065.50,1005.09 L1067.00,1005.23 L1068.50,1005.38 L1070.00,1005.53 L1071.50,1005.67 L1073.00,1005.82 L1074.50,1005.96 L1076.00,1006.10 L1077.50,1006.24 L1079.00,1006.38 L1080.50,1006.52 L1082.00,1006.66 L1083.50,1006.80 L1085.00,1006.93 L1086.50,1007.07 L1088.00,1007.20 L1089.50,1007.33 L1091.00,1007.46 L1092.50,1007.59 L1094.00,1007.72 L1095.50,1007.85 L1097.00,1007.98 L1098.50,1008.11 L1100.00,1008.23 L1101.50,1008.36 L1103.00,1008.48 L1104.50,1008.60 L1106.00,1008.73 L1107.50,1008.85 L1109.00,1008.97 L1110.50,1009.09 L1112.00,1009.20 L1113.50,1009.32 L1115.00,1009.44 L1116.50,1009.55 L1118.00,1009.67 L1119.50,1009.78 L1121.00,1009.89 L1122.50,1010.01 L1124.00,1010.12 L1125.50,1010.23 L1127.00,1010.34 L1128.50,1010.45 L1130.00,1010.55 L1131.50,1010.66 L1133.00,1010.77 L1134.50,1010.87 L1136.00,1010.98 L1137.50,1011.08 L1139.00,1011.18 L1140.50,1011.28 L1142.00,1011.38 L1143.50,1011.48 L1145.00,1011.58 L1146.50,1011.68 L1148.00,1011.78 L1149.50,1011.88 L1151.00,1011.97 L1152.50,1012.07 L1154.00,1012.16 L1155.50,1012.26 L1157.00,1012.35 L1158.50,1012.44 L1160.00,1012.54 L1161.50,1012.63 L1163.00,1012.72 L1164.50,1012.81 L1166.00,1012.90 L1167.50,1012.98 L1169.00,1013.07 L1170.50,1013.16 L1172.00,1013.24 L1173.50,1013.33 L1175.00,1013.41 L1176.50,1013.50 L1178.00,1013.58 L1179.50,1013.66 L1181.00,1013.75 L1182.50,1013.83 L1184.00,1013.91 L1185.50,1013.99 L1187.00,1014.07 L1188.50,1014.15 L1190.00,1014.23 L1191.50,1014.30 L1193.00,1014.38 L1194.50,1014.46 L1196.00,1014.53 L1197.50,1014.61 L1199.00,1014.68 L1200.50,1014.76 L1202.00,1014.83 L1203.50,1014.90 L1205.00,1014.98 L1206.50,1015.05 L1208.00,1015.12 L1209.50,1015.19 L1211.00,1015.26 L1212.50,1015.33 L1214.00,1015.40 L1215.50,1015.47 L1217.00,1015.53 L1218.50,1015.60 L1220.00,1015.67 L1221.50,1015.74 L1223.00,1015.80 L1224.50,1015.87 L1226.00,1015.93 L1227.50,1016.00 L1229.00,1016.06 L1230.50,1016.12 L1232.00,1016.19 L1233.50,1016.25 L1235.00,1016.31 L1236.50,1016.37 L1238.00,1016.44 L1239.50,1016.50 L1241.00,1016.56 L1242.50,1016.62 L1244.00,1016.68 L1245.50,1016.74 L1247.00,1016.80 L1248.50,1016.85 L1250.00,1016.91 L1251.50,1016.97 L1253.00,1017.03 L1254.50,1017.08 L1256.00,1017.14 L1257.50,1017.20 L1259.00,1017.25 L1260.50,1017.31 L1262.00,1017.36 L1263.50,1017.42 L1265.00,1017.47 L1266.50,1017.53 L1268.00,1017.58 L1269.50,1017.63 L1271.00,1017.69 L1272.50,1017.74 L1274.00,1017.79 L1275.50,1017.85 L1277.00,1017.90 L1278.50,1017.95 L1280.00,1018.00 L1281.50,1018.05 L1283.00,1018.10 L1284.50,1018.15 L1286.00,1018.20 L1287.50,1018.25 L1289.00,1018.30 L1290.50,1018.35 L1292.00,1018.40 L1293.50,1018.45 L1295.00,1018.50 L1296.50,1018.55 L1298.00,1018.60 L1299.50,1018.65 L1301.00,1018.70 L1302.50,1018.74 L1304.00,1018.79 L1305.50,1018.84 L1307.00,1018.89 L1308.50,1018.93 L1310.00,1018.98 L1311.50,1019.03 L1313.00,1019.07 L1314.50,1019.12 L1316.00,1019.17 L1317.50,1019.21 L1319.00,1019.26 L1320.50,1019.31 L1322.00,1019.35 L1323.50,1019.40 L1325.00,1019.44 L1326.50,1019.49 L1328.00,1019.54 L1329.50,1019.58 L1331.00,1019.63 L1332.50,1019.67 L1334.00,1019.72 L1335.50,1019.76 L1337.00,1019.81 L1338.50,1019.85 L1340.00,1019.90 L1341.50,1019.94 L1343.00,1019.99 L1344.50,1020.03 L1346.00,1020.08 L1347.50,1020.12 L1349.00,1020.17 L1350.50,1020.21 L1352.00,1020.26 L1353.50,1020.30 L1355.00,1020.35 L1356.50,1020.39 L1358.00,1020.44 L1359.50,1020.48 L1361.00,1020.53 L1362.50,1020.57 L1364.00,1020.62 L1365.50,1020.66 L1367.00,1020.71 L1368.50,1020.75 L1370.00,1020.80 L1371.50,1020.84 L1373.00,1020.89 L1374.50,1020.94 L1376.00,1020.98 L1377.50,1021.03 L1379.00,1021.07 L1380.50,1021.12 L1382.00,1021.17 L1383.50,1021.21 L1385.00,1021.26 L1386.50,1021.30 L1388.00,1021.35 L1389.50,1021.40 L1391.00,1021.44 L1392.50,1021.49 L1394.00,1021.54 L1395.50,1021.59 L1397.00,1021.63 L1398.50,1021.68 L1400.00,1021.73 L1401.50,1021.78 L1403.00,1021.83 L1404.50,1021.87 L1406.00,1021.92 L1407.50,1021.97 L1409.00,1022.02 L1410.50,1022.07 L1412.00,1022.12 L1413.50,1022.17 L1414.50,1022.20" fill="none" stroke="#ff7f0e" stroke-width="7.0" stroke-linecap="square" stroke-linejoin="round"/>
<path d="M354.00,641.54 L355.50,641.92 L357.00,642.33 L358.50,642.75 L360.00,643.19 L361.50,643.65 L363.00,644.12 L364.50,644.61 L366.00,645.12 L367.50,645.64 L369.00,646.18 L370.50,646.74 L372.00,647.31 L373.50,647.90 L375.00,648.51 L376.50,649.13 L378.00,649.76 L379.50,650.41 L381.00,651.08 L382.50,651.76 L384.00,652.45 L385.50,653.16 L387.00,653.88 L388.50,654.62 L390.00,655.37 L391.50,656.14 L393.00,656.92 L394.50,657.71 L396.00,658.52 L397.50,659.34 L399.00,660.17 L400.50,661.02 L402.00,661.88 L403.50,662.75 L405.00,663.63 L406.50,664.52 L408.00,665.43 L409.50,666.35 L411.00,667.28 L412.50,668.22 L414.00,669.18 L415.50,670.14 L417.00,671.12 L418.50,672.11 L420.00,673.10 L421.50,674.11 L423.00,675.13 L424.50,676.16 L426.00,677.20 L427.50,678.25 L429.00,679.31 L430.50,680.37 L432.00,681.45 L433.50,682.54 L435.00,683.63 L436.50,684.74 L438.00,685.85 L439.50,686.97 L441.00,688.10 L442.50,689.24 L444.00,690.39 L445.50,691.54 L447.00,692.70 L448.50,693.87 L450.00,695.05 L451.50,696.23 L453.00,697.43 L454.50,698.62 L456.00,699.83 L457.50,701.04 L459.00,702.26 L460.50,703.48 L462.00,704.71 L463.50,705.95 L465.00,707.19 L466.50,708.44 L468.00,709.69 L469.50,710.95 L471.00,712.21 L472.50,713.48 L474.00,714.75 L475.50,716.03 L477.00,717.31 L478.50,718.59 L480.00,719.88 L481.50,721.17 L483.00,722.47 L484.50,723.77 L486.00,725.08 L487.50,726.38 L489.00,727.69 L490.50,729.01 L492.00,730.32 L493.50,731.64 L495.00,732.96 L496.50,734.29 L498.00,735.61 L499.50,736.94 L501.00,738.27 L502.50,739.60 L504.00,740.93 L505.50,742.26 L507.00,743.60 L508.50,744.93 L510.00,746.27 L511.50,747.60 L513.00,748.94 L514.50,750.28 L516.00,751.61 L517.50,752.95 L519.00,754.29 L520.50,755.62 L522.00,756.96 L523.50,758.29 L525.00,759.63 L526.50,760.96 L528.00,762.29 L529.50,763.62 L531.00,764.95 L532.50,766.28 L534.00,767.61 L535.50,768.93 L537.00,770.26 L538.50,771.58 L540.00,772.91 L541.50,774.23 L543.00,775.55 L544.50,776.86 L546.00,778.18 L547.50,779.49 L549.00,780.81 L550.50,782.12 L552.00,783.43 L553.50,784.73 L555.00,786.04 L556.50,787.34 L558.00,788.64 L559.50,789.94 L561.00,791.24 L562.50,792.53 L564.00,793.83 L565.50,795.12 L567.00,796.41 L568.50,797.69 L570.00,798.97 L571.50,800.25 L573.00,801.53 L574.50,802.81 L576.00,804.08 L577.50,805.35 L579.00,806.62 L580.50,807.88 L582.00,809.14 L583.50,810.40 L585.00,811.65 L586.50,812.91 L588.00,814.15 L589.50,815.40 L591.00,816.64 L592.50,817.88 L594.00,819.12 L595.50,820.35 L597.00,821.58 L598.50,822.80 L600.00,824.02 L601.50,825.24 L603.00,826.46 L604.50,827.67 L606.00,828.87 L607.50,830.08 L609.00,831.28 L610.50,832.47 L612.00,833.66 L613.50,834.85 L615.00,836.03 L616.50,837.21 L618.00,838.38 L619.50,839.55 L621.00,840.72 L622.50,841.88 L624.00,843.04 L625.50,844.19 L627.00,845.34 L628.50,846.48 L630.00,847.62 L631.50,848.75 L633.00,849.88 L634.50,851.01 L636.00,852.12 L637.50,853.24 L639.00,854.35 L640.50,855.45 L642.00,856.55 L643.50,857.64 L645.00,858.73 L646.50,859.82 L648.00,860.89 L649.50,861.97 L651.00,863.03 L652.50,864.10 L654.00,865.15 L655.50,866.20 L657.00,867.25 L658.50,868.29 L660.00,869.32 L661.50,870.35 L663.00,871.37 L664.50,872.39 L666.00,873.40 L667.50,874.41 L669.00,875.41 L670.50,876.40 L672.00,877.39 L673.50,878.38 L675.00,879.36 L676.50,880.33 L678.00,881.30 L679.50,882.26 L681.00,883.22 L682.50,884.17 L684.00,885.12 L685.50,886.06 L687.00,887.00 L688.50,887.93 L690.00,888.86 L691.50,889.78 L693.00,890.69 L694.50,891.61 L696.00,892.51 L697.50,893.41 L699.00,894.31 L700.50,895.20 L702.00,896.09 L703.50,896.97 L705.00,897.84 L706.50,898.71 L708.00,899.58 L709.50,900.44 L711.00,901.30 L712.50,902.15 L714.00,902.99 L715.50,903.84 L717.00,904.67 L718.50,905.50 L720.00,906.33 L721.50,907.15 L723.00,907.97 L724.50,908.78 L726.00,909.59 L727.50,910.40 L729.00,911.19 L730.50,911.99 L732.00,912.78 L733.50,913.56 L735.00,914.34 L736.50,915.12 L738.00,915.89 L739.50,916.66 L741.00,917.42 L742.50,918.17 L744.00,918.93 L745.50,919.68 L747.00,920.42 L748.50,921.16 L750.00,921.89 L751.50,922.63 L753.00,923.35 L754.50,924.07 L756.00,924.79 L757.50,925.51 L759.00,926.21 L760.50,926.92 L762.00,927.62 L763.50,928.32 L765.00,929.01 L766.50,929.70 L768.00,930.38 L769.50,931.06 L771.00,931.73 L772.50,932.41 L774.00,933.07 L775.50,933.74 L777.00,934.40 L778.50,935.05 L780.00,935.70 L781.50,936.35 L783.00,936.99 L784.50,937.63 L786.00,938.26 L787.50,938.89 L789.00,939.52 L790.50,940.14 L792.00,940.76 L793.50,941.38 L795.00,941.99 L796.50,942.60 L798.00,943.20 L799.50,943.80 L801.00,944.40 L802.50,944.99 L804.00,945.58 L805.50,946.16 L807.00,946.74 L808.50,947.32 L810.00,947.89 L811.50,948.46 L813.00,949.03 L814.50,949.59 L816.00,950.15 L817.50,950.70 L819.00,951.26 L820.50,951.80 L822.00,952.35 L823.50,952.89 L825.00,953.43 L826.50,953.96 L828.00,954.49 L829.50,955.02 L831.00,955.54 L832.50,956.06 L834.00,956.58 L835.50,957.09 L837.00,957.60 L838.50,958.10 L840.00,958.61 L841.50,959.11 L843.00,959.60 L844.50,960.09 L846.00,960.58 L847.50,961.07 L849.00,961.55 L850.50,962.03 L852.00,962.51 L853.50,962.98 L855.00,963.45 L856.50,963.92 L858.00,964.38 L859.50,964.84 L861.00,965.30 L862.50,965.75 L864.00,966.20 L865.50,966.65 L867.00,967.09 L868.50,967.53 L870.00,967.97 L871.50,968.41 L873.00,968.84 L874.50,969.27 L876.00,969.70 L877.50,970.12 L879.00,970.54 L880.50,970.96 L882.00,971.37 L883.50,971.78 L885.00,972.19 L886.50,972.60 L888.00,973.00 L889.50,973.40 L891.00,973.80 L892.50,974.19 L894.00,974.59 L895.50,974.98 L897.00,975.36 L898.50,975.75 L900.00,976.13 L901.50,976.50 L903.00,976.88 L904.50,977.25 L906.00,977.62 L907.50,977.99 L909.00,978.36 L910.50,978.72 L912.00,979.08 L913.50,979.44 L915.00,979.79 L916.50,980.14 L918.00,980.49 L919.50,980.84 L921.00,981.18 L922.50,981.53 L924.00,981.87 L925.50,982.20 L927.00,982.54 L928.50,982.87 L930.00,983.20 L931.50,983.53 L933.00,983.85 L934.50,984.18 L936.00,984.50 L937.50,984.82 L939.00,985.13 L940.50,985.45 L942.00,985.76 L943.50,986.07 L945.00,986.37 L946.50,986.68 L948.00,986.98 L949.50,987.28 L951.00,987.58 L952.50,987.88 L954.00,988.17 L955.50,988.46 L957.00,988.75 L958.50,989.04 L960.00,989.33 L961.50,989.61 L963.00,989.89 L964.50,990.17 L966.00,990.45 L967.50,990.73 L969.00,991.00 L970.50,991.27 L972.00,991.54 L973.50,991.81 L975.00,992.08 L976.50,992.34 L978.00,992.61 L979.50,992.87 L981.00,993.13 L982.50,993.38 L984.00,993.64 L985.50,993.89 L987.00,994.14 L988.50,994.39 L990.00,994.64 L991.50,994.89 L993.00,995.13 L994.50,995.38 L996.00,995.62 L997.50,995.86 L999.00,996.10 L1000.50,996.33 L1002.00,996.57 L1003.50,996.80 L1005.00,997.04 L1006.50,997.27 L1008.00,997.50 L1009.50,997.72 L1011.00,997.95 L1012.50,998.17 L1014.00,998.40 L1015.50,998.62 L1017.00,998.84 L1018.50,999.05 L1020.00,999.27 L1021.50,999.49 L1023.00,999.70 L1024.50,999.91 L1026.00,1000.12 L1027.50,1000.33 L1029.00,1000.54 L1030.50,1000.74 L1032.00,1000.95 L1033.50,1001.15 L1035.00,1001.35 L1036.50,1001.55 L1038.00,1001.75 L1039.50,1001.95 L1041.00,1002.15 L1042.50,1002.34 L1044.00,1002.53 L1045.50,1002.73 L1047.00,1002.92 L1048.50,1003.10 L1050.00,1003.29 L1051.50,1003.48 L1053.00,1003.66 L1054.50,1003.85 L1056.00,1004.03 L1057.50,1004.21 L1059.00,1004.39 L1060.50,1004.56 L1062.00,1004.74 L1063.50,1004.92 L1065.00,1005.09 L1066.50,1005.26 L1068.00,1005.43 L1069.50,1005.60 L1071.00,1005.77 L1072.50,1005.94 L1074.00,1006.10 L1075.50,1006.27 L1077.00,1006.43 L1078.50,1006.59 L1080.00,1006.76 L1081.50,1006.92 L1083.00,1007.07 L1084.50,1007.23 L1086.00,1007.39 L1087.50,1007.54 L1089.00,1007.69 L1090.50,1007.85 L1092.00,1008.00 L1093.50,1008.15 L1095.00,1008.30 L1096.50,1008.44 L1098.00,1008.59 L1099.50,1008.73 L1101.00,1008.88 L1102.50,1009.02 L1104.00,1009.16 L1105.50,1009.30 L1107.00,1009.44 L1108.50,1009.58 L1110.00,1009.71 L1111.50,1009.85 L1113.00,1009.99 L1114.50,1010.12 L1116.00,1010.25 L1117.50,1010.38 L1119.00,1010.51 L1120.50,1010.64 L1122.00,1010.77 L1123.50,1010.90 L1125.00,1011.02 L1126.50,1011.15 L1128.00,1011.27 L1129.50,1011.39 L1131.00,1011.51 L1132.50,1011.63 L1134.00,1011.75 L1135.50,1011.87 L1137.00,1011.99 L1138.50,1012.11 L1140.00,1012.22 L1141.50,1012.34 L1143.00,1012.45 L1144.50,1012.56 L1146.00,1012.67 L1147.50,1012.78 L1149.00,1012.89 L1150.50,1013.00 L1152.00,1013.11 L1153.50,1013.21 L1155.00,1013.32 L1156.50,1013.42 L1158.00,1013.53 L1159.50,1013.63 L1161.00,1013.73 L1162.50,1013.83 L1164.00,1013.93 L1165.50,1014.03 L1167.00,1014.13 L1168.50,1014.23 L1170.00,1014.33 L1171.50,1014.42 L1173.00,1014.52 L1174.50,1014.61 L1176.00,1014.70 L1177.50,1014.80 L1179.00,1014.89 L1180.50,1014.98 L1182.00,1015.07 L1183.50,1015.16 L1185.00,1015.24 L1186.50,1015.33 L1188.00,1015.42 L1189.50,1015.50 L1191.00,1015.59 L1192.50,1015.67 L1194.00,1015.75 L1195.50,1015.84 L1197.00,1015.92 L1198.50,1016.00 L1200.00,1016.08 L1201.50,1016.16 L1203.00,1016.24 L1204.50,1016.32 L1206.00,1016.39 L1207.50,1016.47 L1209.00,1016.55 L1210.50,1016.62 L1212.00,1016.70 L1213.50,1016.77 L1215.00,1016.84 L1216.50,1016.91 L1218.00,1016.99 L1219.50,1017.06 L1221.00,1017.13 L1222.50,1017.20 L1224.00,1017.27 L1225.50,1017.33 L1227.00,1017.40 L1228.50,1017.47 L1230.00,1017.54 L1231.50,1017.60 L1233.00,1017.67 L1234.50,1017.73 L1236.00,1017.80 L1237.50,1017.86 L1239.00,1017.92 L1240.50,1017.98 L1242.00,1018.05 L1243.50,1018.11 L1245.00,1018.17 L1246.50,1018.23 L1248.00,1018.29 L1249.50,1018.35 L1251.00,1018.41 L1252.50,1018.46 L1254.00,1018.52 L1255.50,1018.58 L1257.00,1018.63 L1258.50,1018.69 L1260.00,1018.75 L1261.50,1018.80 L1263.00,1018.85 L1264.50,1018.91 L1266.00,1018.96 L1267.50,1019.02 L1269.00,1019.07 L1270.50,1019.12 L1272.00,1019.17 L1273.50,1019.22 L1275.00,1019.27 L1276.50,1019.32 L1278.00,1019.37 L1279.50,1019.42 L1281.00,1019.47 L1282.50,1019.52 L1284.00,1019.57 L1285.50,1019.62 L1287.00,1019.67 L1288.50,1019.71 L1290.00,1019.76 L1291.50,1019.81 L1293.00,1019.85 L1294.50,1019.90 L1296.00,1019.94 L1297.50,1019.99 L1299.00,1020.03 L1300.50,1020.08 L1302.00,1020.12 L1303.50,1020.17 L1305.00,1020.21 L1306.50,1020.25 L1308.00,1020.30 L1309.50,1020.34 L1311.00,1020.38 L1312.50,1020.42 L1314.00,1020.46 L1315.50,1020.51 L1317.00,1020.55 L1318.50,1020.59 L1320.00,1020.63 L1321.50,1020.67 L1323.00,1020.71 L1324.50,1020.75 L1326.00,1020.79 L1327.50,1020.83 L1329.00,1020.87 L1330.50,1020.91 L1332.00,1020.95 L1333.50,1020.99 L1335.00,1021.03 L1336.50,1021.07 L1338.00,1021.10 L1339.50,1021.14 L1341.00,1021.18 L1342.50,1021.22 L1344.00,1021.26 L1345.50,1021.29 L1347.00,1021.33 L1348.50,1021.37 L1350.00,1021.41 L1351.50,1021.44 L1353.00,1021.48 L1354.50,1021.52 L1356.00,1021.56 L1357.50,1021.59 L1359.00,1021.63 L1360.50,1021.67 L1362.00,1021.70 L1363.50,1021.74 L1365.00,1021.78 L1366.50,1021.81 L1368.00,1021.85 L1369.50,1021.89 L1371.00,1021.92 L1372.50,1021.96 L1374.00,1022.00 L1375.50,1022.03 L1377.00,1022.07 L1378.50,1022.11 L1380.00,1022.14 L1381.50,1022.18 L1383.00,1022.22 L1384.50,1022.26 L1386.00,1022.29 L1387.50,1022.33 L1389.00,1022.37 L1390.50,1022.40 L1392.00,1022.44 L1393.50,1022.48 L1395.00,1022.51 L1396.50,1022.55 L1398.00,1022.59 L1399.50,1022.63 L1401.00,1022.66 L1402.50,1022.70 L1404.00,1022.74 L1405.50,1022.78 L1407.00,1022.82 L1408.50,1022.85 L1410.00,1022.89 L1411.50,1022.93 L1413.00,1022.97 L1414.50,1023.01" fill="none" stroke="#2ca02c" stroke-width="7.0" stroke-linecap="square" stroke-linejoin="round"/>
<path d="M314.2,551.05 H455" stroke="#808080" stroke-width="7.9" stroke-dasharray="23.6 9.15" stroke-linecap="butt" fill="none"/>
<path d="M318.1,642.3 H455" stroke="#808080" stroke-width="7.9" stroke-dasharray="23.6 9.15" stroke-linecap="butt" fill="none"/>
<path d="M318.1,779.0 H455" stroke="#808080" stroke-width="7.9" stroke-dasharray="23.6 9.15" stroke-linecap="butt" fill="none"/>
<path d="M317.9,938.5 H455" stroke="#808080" stroke-width="7.9" stroke-dasharray="23.6 9.15" stroke-linecap="butt" fill="none"/>
<path d="M1274.1,76.5 H1415" stroke="#808080" stroke-width="7.9" stroke-dasharray="23.6 9.15" stroke-linecap="butt" fill="none"/>
<rect x="257" y="27" width="1214" height="4" fill="#000"/>
<rect x="257" y="1071" width="1214" height="4" fill="#000"/>
<rect x="257" y="27" width="5" height="1048" fill="#000"/>
<rect x="1467" y="27" width="4" height="1048" fill="#000"/>
<rect x="245" y="74.80" width="12" height="4.2" fill="#000"/>
<rect x="245" y="264.62" width="12" height="4.2" fill="#000"/>
<rect x="245" y="454.44" width="12" height="4.2" fill="#000"/>
<rect x="245" y="644.26" width="12" height="4.2" fill="#000"/>
<rect x="245" y="834.08" width="12" height="4.2" fill="#000"/>
<rect x="245" y="1023.90" width="12" height="4.2" fill="#000"/>
<rect x="312.20" y="1075" width="4.6" height="12.9" fill="#000"/>
<rect x="512.20" y="1075" width="4.6" height="12.9" fill="#000"/>
<rect x="712.20" y="1075" width="4.6" height="12.9" fill="#000"/>
<rect x="912.20" y="1075" width="4.6" height="12.9" fill="#000"/>
<rect x="1112.20" y="1075" width="4.6" height="12.9" fill="#000"/>
<rect x="1312.20" y="1075" width="4.6" height="12.9" fill="#000"/>
<rect x="869.4" y="370.4" width="571" height="362" rx="7" ry="7" fill="#fff" stroke="#d5d5d5" stroke-width="4.6"/>
<path d="M908.7,416.5 H991" stroke="#000" stroke-width="7" stroke-dasharray="41.3 9 7 9" fill="none"/>
<path d="M909.5,503.5 H990.5" stroke="#2ca02c" stroke-width="7" stroke-linecap="square" fill="none"/>
<path d="M909.5,589.5 H990.5" stroke="#ff7f0e" stroke-width="7" stroke-linecap="square" fill="none"/>
<path d="M909.5,676.5 H990.5" stroke="#1f77b4" stroke-width="7" stroke-linecap="square" fill="none"/>
<g opacity="0.999" font-family="'Liberation Sans', sans-serif" font-size="100" fill="#000" stroke="#000" stroke-linejoin="round" text-rendering="geometricPrecision">

<text id="yt0_0" transform="matrix(0.51365,0.00000,0.00000,0.52450,121.258,95.957)" stroke-width="2.505">0</text><text id="yt0_1" transform="matrix(0.47262,0.00000,0.00000,0.50743,152.810,95.600)" stroke-width="2.655">.</text><text id="yt0_2" transform="matrix(0.49403,0.00000,0.00000,0.52017,168.863,95.579)" stroke-width="2.564">2</text><text id="yt0_3" transform="matrix(0.48697,0.00000,0.00000,0.52243,201.287,95.953)" stroke-width="2.577">5</text>
<text id="yt1_0" transform="matrix(0.51365,0.00000,0.00000,0.52450,121.258,285.842)" stroke-width="2.505">0</text><text id="yt1_1" transform="matrix(0.47262,0.00000,0.00000,0.50743,152.810,285.496)" stroke-width="2.655">.</text><text id="yt1_2" transform="matrix(0.49403,0.00000,0.00000,0.52017,168.863,285.471)" stroke-width="2.564">2</text><text id="yt1_3" transform="matrix(0.51412,0.00000,0.00000,0.52418,200.798,284.996)" stroke-width="2.504">0</text>
<text id="yt2_0" transform="matrix(0.51365,0.00000,0.00000,0.52450,121.258,474.781)" stroke-width="2.505">0</text><text id="yt2_1" transform="matrix(0.47262,0.00000,0.00000,0.50743,152.810,474.354)" stroke-width="2.655">.</text><text id="yt2_2" transform="matrix(0.48552,0.00000,0.00000,0.51842,169.445,474.354)" stroke-width="2.591">1</text><text id="yt2_3" transform="matrix(0.48697,0.00000,0.00000,0.52243,201.287,474.775)" stroke-width="2.577">5</text>
<text id="yt3_0" transform="matrix(0.51365,0.00000,0.00000,0.52450,121.258,664.664)" stroke-width="2.505">0</text><text id="yt3_1" transform="matrix(0.47262,0.00000,0.00000,0.50743,152.810,664.317)" stroke-width="2.655">.</text><text id="yt3_2" transform="matrix(0.48552,0.00000,0.00000,0.51842,169.445,664.285)" stroke-width="2.591">1</text><text id="yt3_3" transform="matrix(0.51412,0.00000,0.00000,0.52418,200.798,664.823)" stroke-width="2.504">0</text>
<text id="yt4_0" transform="matrix(0.51365,0.00000,0.00000,0.52450,121.258,854.543)" stroke-width="2.505">0</text><text id="yt4_1" transform="matrix(0.47262,0.00000,0.00000,0.50743,152.810,854.187)" stroke-width="2.655">.</text><text id="yt4_2" transform="matrix(0.51381,0.00000,0.00000,0.52278,169.138,854.675)" stroke-width="2.508">0</text><text id="yt4_3" transform="matrix(0.48697,0.00000,0.00000,0.52243,201.287,854.541)" stroke-width="2.577">5</text>
<text id="yt5_0" transform="matrix(0.51365,0.00000,0.00000,0.52450,121.258,1043.486)" stroke-width="2.505">0</text><text id="yt5_1" transform="matrix(0.47262,0.00000,0.00000,0.50743,152.810,1044.073)" stroke-width="2.655">.</text><text id="yt5_2" transform="matrix(0.51381,0.00000,0.00000,0.52278,169.138,1043.620)" stroke-width="2.508">0</text><text id="yt5_3" transform="matrix(0.51412,0.00000,0.00000,0.52418,200.798,1043.643)" stroke-width="2.504">0</text>
<text id="xt0" transform="matrix(0.51719,0.00000,0.00000,0.51657,300.696,1138.210)" stroke-width="2.515">0</text>
<text id="xt1" transform="matrix(0.49077,0.00000,0.00000,0.52396,500.614,1139.050)" stroke-width="2.564">1</text>
<text id="xt2" transform="matrix(0.52276,0.00000,0.00000,0.51901,699.542,1139.054)" stroke-width="2.496">2</text>
<text id="xt3" transform="matrix(0.52547,0.00000,0.00000,0.52486,900.088,1138.635)" stroke-width="2.475">3</text>
<text id="xt4" transform="matrix(0.51370,0.00000,0.00000,0.52396,1100.420,1139.050)" stroke-width="2.506">4</text>
<text id="xt5" transform="matrix(0.50572,0.00000,0.00000,0.52857,1299.467,1138.771)" stroke-width="2.514">5</text>
<text id="xl_dist_0" transform="matrix(0.62041,0.00000,0.00000,0.60730,666.748,1209.434)" stroke-width="2.118">d</text><text id="xl_dist_1" transform="matrix(0.52387,0.00000,0.00000,0.60158,705.005,1209.876)" stroke-width="2.316">i</text><text id="xl_dist_2" transform="matrix(0.54727,0.00000,0.00000,0.60089,720.817,1209.726)" stroke-width="2.267">s</text><text id="xl_dist_3" transform="matrix(0.74708,0.00000,0.00000,0.61873,750.024,1209.401)" stroke-width="1.912">t</text><text id="xl_dist_4" transform="matrix(0.51153,0.00000,0.00000,0.60020,773.688,1209.984)" stroke-width="2.346">a</text><text id="xl_dist_5" transform="matrix(0.61436,0.00000,0.00000,0.59428,809.347,1209.886)" stroke-width="2.151">n</text><text id="xl_dist_6" transform="matrix(0.57337,0.00000,0.00000,0.59748,845.916,1209.945)" stroke-width="2.221">c</text><text id="xl_dist_7" transform="matrix(0.61578,0.00000,0.00000,0.59707,877.761,1210.004)" stroke-width="2.144">e</text> <text id="xl_z" transform="matrix(0.64737,0.00000,0.00000,0.58940,929.957,1209.258)" font-style="italic" stroke-width="2.105">z</text><text id="xl_sl" transform="matrix(0.67549,0.00000,0.00000,0.64687,970.649,1214.611)" stroke-width="1.967">/</text><text id="xl_lb" transform="matrix(0.70600,0.00000,0.00000,0.60487,998.535,1210.182)" font-style="italic" stroke-width="1.989">ƛ</text><text id="xl_p" transform="matrix(0.43579,0.00000,0.00000,0.41720,1033.753,1219.736)" font-style="italic" stroke-width="3.049">p</text>
<text id="lg_ideal_0" transform="matrix(0.52408,0.00000,0.00000,0.60158,1055.129,435.671)" stroke-width="2.315">i</text><text id="lg_ideal_1" transform="matrix(0.61941,0.00000,0.00000,0.60520,1069.837,436.008)" stroke-width="2.123">d</text><text id="lg_ideal_2" transform="matrix(0.61625,0.00000,0.00000,0.59749,1106.928,435.805)" stroke-width="2.142">e</text><text id="lg_ideal_3" transform="matrix(0.51260,0.00000,0.00000,0.59769,1143.330,435.895)" stroke-width="2.349">a</text><text id="lg_ideal_4" transform="matrix(0.52657,0.00000,0.00000,0.60158,1179.867,435.671)" stroke-width="2.310">l</text> <text id="lg_ideal_5" transform="matrix(0.57254,0.00000,0.00000,0.59949,1213.346,435.798)" stroke-width="2.219">c</text><text id="lg_ideal_6" transform="matrix(0.60648,0.00000,0.00000,0.59695,1245.365,435.749)" stroke-width="2.161">o</text><text id="lg_ideal_7" transform="matrix(0.61433,0.00000,0.00000,0.59345,1281.668,435.679)" stroke-width="2.153">n</text><text id="lg_ideal_8" transform="matrix(0.62026,0.00000,0.00000,0.60537,1318.020,436.090)" stroke-width="2.122">d</text><text id="lg_ideal_9" transform="matrix(0.56275,0.00000,0.00000,0.60714,1355.558,435.648)" stroke-width="2.224">.</text>
<text id="lg0_k" transform="matrix(0.64074,0.00000,0.00000,0.58858,1055.353,521.460)" font-style="italic" stroke-width="2.117">k</text><text id="lg0_B" transform="matrix(0.39674,0.00000,0.00000,0.38255,1088.362,529.940)" font-style="italic" stroke-width="3.337">B</text><text id="lg0_T" transform="matrix(0.64579,0.00000,0.00000,0.61052,1113.262,520.997)" font-style="italic" stroke-width="2.070">T</text><text id="lg0_eq" transform="matrix(0.74178,0.00000,0.00000,0.57585,1165.531,522.259)" stroke-width="1.989">=</text><text id="lg0_num" transform="matrix(0.57391,0.00000,0.00000,0.60679,1224.609,521.101)" stroke-width="2.203">5</text><text id="lg0_hb" transform="matrix(0.65906,0.00000,0.00000,0.60033,1271.042,521.704)" font-style="italic" stroke-width="2.067">ħ</text><text id="lg0_sl" transform="matrix(0.69267,0.00000,0.00000,0.64391,1308.935,526.121)" stroke-width="1.947">/</text><text id="lg0_tau" transform="matrix(0.72949,0.00000,0.00000,0.60109,1331.242,521.917)" font-style="italic" stroke-width="1.963">τ</text>
<text id="lg1_k" transform="matrix(0.64074,0.00000,0.00000,0.58858,1055.353,607.740)" font-style="italic" stroke-width="2.117">k</text><text id="lg1_B" transform="matrix(0.39674,0.00000,0.00000,0.38255,1088.362,616.122)" font-style="italic" stroke-width="3.337">B</text><text id="lg1_T" transform="matrix(0.64579,0.00000,0.00000,0.61052,1113.262,607.302)" font-style="italic" stroke-width="2.070">T</text><text id="lg1_eq" transform="matrix(0.74178,0.00000,0.00000,0.57585,1165.531,608.123)" stroke-width="1.989">=</text><text id="lg1_hb" transform="matrix(0.64813,0.00000,0.00000,0.59553,1224.860,607.768)" font-style="italic" stroke-width="2.092">ħ</text><text id="lg1_sl" transform="matrix(0.67843,0.00000,0.00000,0.64391,1263.620,612.347)" stroke-width="1.967">/</text><text id="lg1_tau" transform="matrix(0.76961,0.00000,0.00000,0.60322,1284.594,608.322)" font-style="italic" stroke-width="1.908">τ</text>
<text id="lg2_k" transform="matrix(0.64074,0.00000,0.00000,0.58858,1055.353,693.972)" font-style="italic" stroke-width="2.117">k</text><text id="lg2_B" transform="matrix(0.39674,0.00000,0.00000,0.38255,1088.362,702.420)" font-style="italic" stroke-width="3.337">B</text><text id="lg2_T" transform="matrix(0.64579,0.00000,0.00000,0.61052,1113.262,694.506)" font-style="italic" stroke-width="2.070">T</text><text id="lg2_eq" transform="matrix(0.74178,0.00000,0.00000,0.57585,1165.531,694.617)" stroke-width="1.989">=</text><text id="lg2_num_0" transform="matrix(0.60278,0.00000,0.00000,0.60466,1224.162,694.234)" stroke-width="2.153">0</text><text id="lg2_num_1" transform="matrix(0.59612,0.00000,0.00000,0.62326,1261.285,694.414)" stroke-width="2.133">.</text><text id="lg2_num_2" transform="matrix(0.56720,0.00000,0.00000,0.59715,1276.765,694.163)" stroke-width="2.234">2</text><text id="lg2_hb" transform="matrix(0.65960,0.00000,0.00000,0.60033,1323.723,694.192)" font-style="italic" stroke-width="2.066">ħ</text><text id="lg2_sl" transform="matrix(0.67187,0.00000,0.00000,0.64391,1361.285,698.609)" stroke-width="1.976">/</text><text id="lg2_tau" transform="matrix(0.74175,0.00000,0.00000,0.60098,1383.520,694.476)" font-style="italic" stroke-width="1.947">τ</text>
<text id="yl_force_0" transform="matrix(0.00000,-0.73435,0.60492,0.00000,77.423,1043.243)" stroke-width="1.950">f</text><text id="yl_force_1" transform="matrix(0.00000,-0.60816,0.59996,0.00000,78.113,1022.584)" stroke-width="2.152">o</text><text id="yl_force_2" transform="matrix(0.00000,-0.71814,0.59685,0.00000,78.393,986.835)" stroke-width="1.986">r</text><text id="yl_force_3" transform="matrix(0.00000,-0.56970,0.59957,0.00000,77.935,963.787)" stroke-width="2.224">c</text><text id="yl_force_4" transform="matrix(0.00000,-0.61409,0.60025,0.00000,78.101,932.047)" stroke-width="2.141">e</text> <text id="yl_density_0" transform="matrix(0.00000,-0.61933,0.60606,0.00000,77.979,878.163)" stroke-width="2.122">d</text><text id="yl_density_1" transform="matrix(0.00000,-0.61689,0.59846,0.00000,78.101,841.206)" stroke-width="2.140">e</text><text id="yl_density_2" transform="matrix(0.00000,-0.61408,0.59522,0.00000,77.881,804.637)" stroke-width="2.150">n</text><text id="yl_density_3" transform="matrix(0.00000,-0.55258,0.60058,0.00000,78.578,767.288)" stroke-width="2.257">s</text><text id="yl_density_4" transform="matrix(0.00000,-0.53875,0.60144,0.00000,77.347,736.506)" stroke-width="2.284">i</text><text id="yl_density_5" transform="matrix(0.00000,-0.74913,0.61798,0.00000,77.233,721.764)" stroke-width="1.911">t</text><text id="yl_density_6" transform="matrix(0.00000,-0.61750,0.58953,0.00000,77.652,697.917)" stroke-width="2.155">y</text> <text id="yl_minus" transform="matrix(0.00000,-0.72472,0.54035,0.00000,77.832,644.736)" stroke-width="2.077">−</text><text id="yl_f" transform="matrix(0.00000,-0.71159,0.59507,0.00000,77.330,598.332)" font-style="italic" stroke-width="1.998">f</text><text id="yl_lp1" transform="matrix(0.00000,-0.48849,0.54525,0.00000,74.057,577.468)" stroke-width="2.519">(</text><text id="yl_z1" transform="matrix(0.00000,-0.63325,0.57903,0.00000,78.368,556.443)" font-style="italic" stroke-width="2.147">z</text><text id="yl_comma" transform="matrix(0.00000,-0.75886,0.58530,0.00000,76.932,528.996)" stroke-width="1.951">,</text> <text id="yl_T1" transform="matrix(0.00000,-0.60952,0.60711,0.00000,77.160,499.611)" font-style="italic" stroke-width="2.137">T</text><text id="yl_rp1" transform="matrix(0.00000,-0.47864,0.54124,0.00000,73.928,457.778)" stroke-width="2.554">)</text> <text id="yl_lb" transform="matrix(0.00000,-0.56896,0.54129,0.00000,74.293,419.168)" stroke-width="2.343">[</text><text id="yl_k" transform="matrix(0.00000,-0.63422,0.58762,0.00000,77.269,396.400)" font-style="italic" stroke-width="2.129">k</text><text id="yl_B" transform="matrix(0.00000,-0.39362,0.41014,0.00000,86.161,363.695)" font-style="italic" stroke-width="3.235">B</text><text id="yl_T2" transform="matrix(0.00000,-0.63296,0.61007,0.00000,77.604,338.041)" font-style="italic" stroke-width="2.092">T</text><text id="yl_sl" transform="matrix(0.00000,-0.69936,0.65105,0.00000,83.157,289.485)" stroke-width="1.927">/</text><text id="yl_lp2" transform="matrix(0.00000,-0.48855,0.54554,0.00000,73.530,260.237)" stroke-width="2.518">(</text><text id="yl_z2" transform="matrix(0.00000,-0.64177,0.58224,0.00000,77.888,238.813)" font-style="italic" stroke-width="2.127">z</text><text id="yl_sq1" transform="matrix(0.00000,-0.40922,0.41770,0.00000,54.754,205.120)" stroke-width="3.144">2</text><text id="yl_lam" transform="matrix(0.00000,-0.67089,0.60447,0.00000,77.780,167.982)" font-style="italic" stroke-width="2.041">ƛ</text><text id="yl_p" transform="matrix(0.00000,-0.42239,0.41225,0.00000,92.514,133.864)" font-style="italic" stroke-width="3.115">p</text><text id="yl_sq2" transform="matrix(0.00000,-0.40671,0.41805,0.00000,54.784,130.175)" stroke-width="3.153">2</text><text id="yl_rp2" transform="matrix(0.00000,-0.48607,0.54639,0.00000,74.426,99.935)" stroke-width="2.523">)</text><text id="yl_rb" transform="matrix(0.00000,-0.58129,0.54746,0.00000,74.180,75.448)" stroke-width="2.304">]</text>
</g>
</svg></body></html>
